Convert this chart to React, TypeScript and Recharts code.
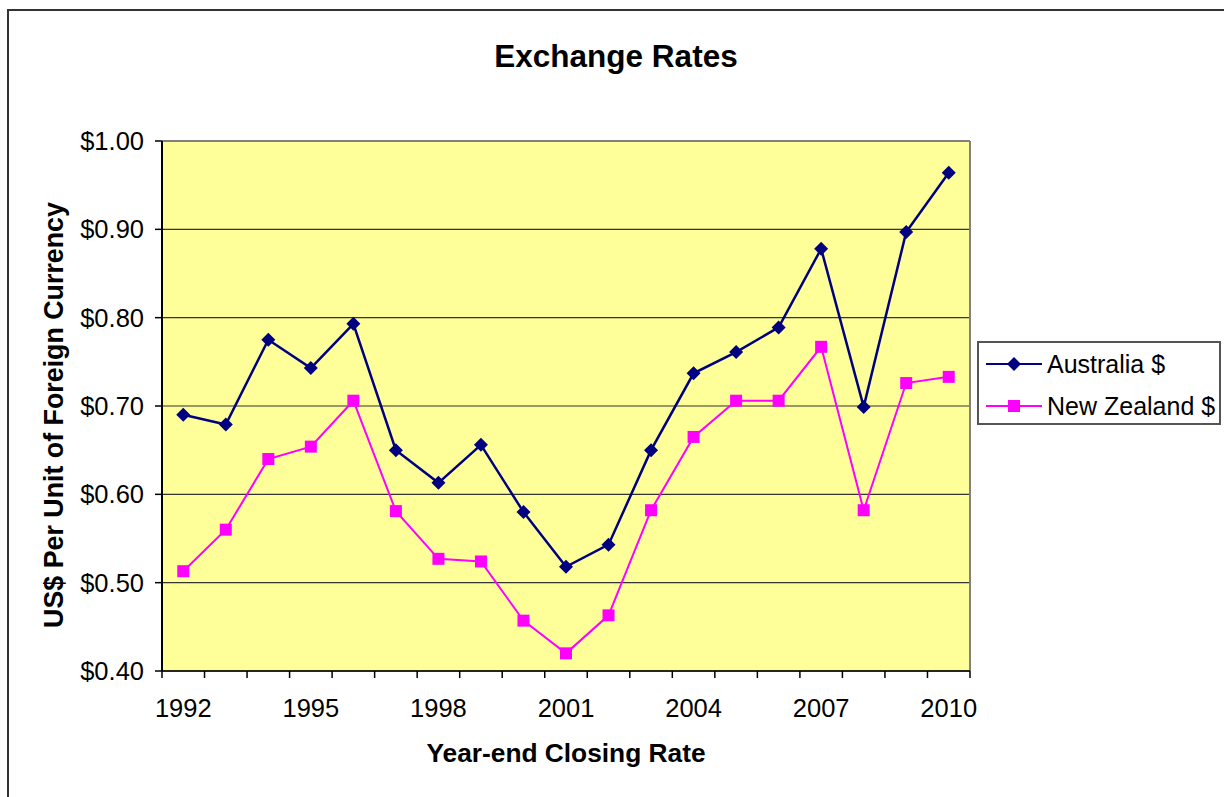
import { CartesianGrid, Legend, Line, LineChart, ReferenceLine, XAxis, YAxis } from "recharts";

const years = [1992, 1993, 1994, 1995, 1996, 1997, 1998, 1999, 2000, 2001, 2002, 2003, 2004, 2005, 2006, 2007, 2008, 2009, 2010];
const australia = [0.690, 0.679, 0.775, 0.743, 0.793, 0.650, 0.613, 0.656, 0.580, 0.518, 0.543, 0.650, 0.737, 0.761, 0.789, 0.878, 0.699, 0.897, 0.964];
const newZealand = [0.513, 0.560, 0.640, 0.654, 0.706, 0.581, 0.527, 0.524, 0.457, 0.420, 0.463, 0.582, 0.665, 0.706, 0.706, 0.767, 0.582, 0.726, 0.733];
const yearLabels = [1992, 1995, 1998, 2001, 2004, 2007, 2010];
const yTicks = [0.4, 0.5, 0.6, 0.7, 0.8, 0.9, 1.0];

const FONT = '"Liberation Sans", Arial, sans-serif';
const NAVY = "#000080";
const MAGENTA = "#FF00FF";

const data = years.map((year, i) => ({ year, aus: australia[i], nz: newZealand[i] }));

// boundary ticks between the years, plus the labelled years
const boundaries = [...years.map((y) => y - 0.5), years[years.length - 1] + 0.5];
const xTicks = [...boundaries, ...yearLabels].sort((a, b) => a - b);

const Diamond = (props: any) => {
    const { cx, cy } = props;
    if (cx == null || cy == null) return null;
    const r = 7;
    return <polygon points={`${cx},${cy - r} ${cx + r},${cy} ${cx},${cy + r} ${cx - r},${cy}`} fill={NAVY} />;
};

const Square = (props: any) => {
    const { cx, cy } = props;
    if (cx == null || cy == null) return null;
    const s = 6;
    return <rect x={cx - s} y={cy - s} width={s * 2} height={s * 2} fill={MAGENTA} />;
};

const XTick = (props: any) => {
    const { x, y, payload } = props;
    const v = payload.value;
    if (Number.isInteger(v)) {
        return <text x={x} y={y + 46} textAnchor="middle" fontSize={25.5} fill="#000" fontFamily={FONT}>{v}</text>;
    }
    return <line x1={x} x2={x} y1={y} y2={y + 7} stroke="#000" strokeWidth={1.5} />;
};

const YLabel = (props: any) => {
    const { viewBox } = props;
    const cx = viewBox.x - 8;
    const cy = viewBox.y + viewBox.height / 2 + 9;
    return (
        <text x={cx} y={cy} transform={`rotate(-90, ${cx}, ${cy})`} textAnchor="middle" dominantBaseline="central"
            fontSize={26.8} fontWeight="bold" fontFamily={FONT} fill="#000">
            US$ Per Unit of Foreign Currency
        </text>
    );
};

const LegendBox = () => {
    const rows = [
        { name: "Australia $", color: NAVY, marker: "diamond" },
        { name: "New Zealand $", color: MAGENTA, marker: "square" },
    ];
    return (
        <div style={{ border: "2px solid #555", background: "#fff", width: 240, height: 80, boxSizing: "content-box", fontFamily: FONT }}>
            {rows.map((r) => (
                <div key={r.name} style={{ display: "flex", alignItems: "center", height: 42 }}>
                    <svg width={68} height={20} style={{ flex: "none" }}>
                        <line x1={7} x2={63} y1={10} y2={10} stroke={r.color} strokeWidth={2} />
                        {r.marker === "diamond"
                            ? <polygon points="35,3 42,10 35,17 28,10" fill={r.color} />
                            : <rect x={29} y={4} width={12} height={12} fill={r.color} />}
                    </svg>
                    <span style={{ fontSize: 25, color: "#000", whiteSpace: "nowrap" }}>{r.name}</span>
                </div>
            ))}
        </div>
    );
};

export default function App() {
    return (
        <div style={{ position: "relative", width: 1224, height: 797, fontFamily: FONT, overflow: "hidden" }}>
            <style>{"html{overflow:hidden} body{margin:0}"}</style>
            <div style={{ position: "absolute", left: 7, top: 9, width: 1217, height: 788, borderLeft: "2px solid #333", borderTop: "2px solid #333", boxSizing: "border-box" }} />
            <div style={{ position: "absolute", left: 316, top: 38, width: 600, textAlign: "center", fontSize: 31.5, fontWeight: "bold", lineHeight: "36px", color: "#000" }}>
                Exchange Rates
            </div>
            <div style={{ position: "absolute", left: 8, top: 8 }}>
                <LineChart
                    width={1216}
                    height={789}
                    data={data}
                    margin={{ top: 133, right: 254, bottom: 16, left: 54 }}
                    style={{ fontFamily: FONT }}
                >
                    <CartesianGrid vertical={false} stroke="#333" strokeWidth={1.2} fill="#FFFF99" fillOpacity={1} />
                    <XAxis
                        dataKey="year"
                        type="number"
                        domain={[1991.5, 2010.5]}
                        ticks={xTicks}
                        interval={0}
                        allowDataOverflow
                        height={110}
                        tickLine={false}
                        tickSize={0}
                        tickMargin={0}
                        tick={<XTick />}
                        axisLine={{ stroke: "#000", strokeWidth: 1.5 }}
                        label={{ value: "Year-end Closing Rate", position: "insideBottom", offset: 19, fontSize: 26.3, fontWeight: "bold", fill: "#000" }}
                    />
                    <YAxis
                        type="number"
                        domain={[0.4, 1.0]}
                        ticks={yTicks}
                        interval={0}
                        width={100}
                        tickSize={7}
                        tickMargin={11}
                        tickFormatter={(v: number) => `$${v.toFixed(2)}`}
                        tick={{ fontSize: 25.5, fill: "#000" }}
                        tickLine={{ stroke: "#000", strokeWidth: 1.5 }}
                        axisLine={{ stroke: "#000", strokeWidth: 2 }}
                        label={<YLabel />}
                    />
                    <ReferenceLine y={1.0} stroke="#808080" strokeWidth={2} ifOverflow="visible" />
                    <ReferenceLine x={2010.5} stroke="#808080" strokeWidth={2} ifOverflow="visible" />
                    <Legend
                        layout="vertical"
                        align="center"
                        verticalAlign="middle"
                        content={<LegendBox />}
                        wrapperStyle={{ left: 969, top: 333, width: 244, right: "auto", bottom: "auto" }}
                    />
                    <Line type="linear" dataKey="aus" name="Australia $" stroke={NAVY} strokeWidth={2.5} dot={<Diamond />} activeDot={false} isAnimationActive={false} />
                    <Line type="linear" dataKey="nz" name="New Zealand $" stroke={MAGENTA} strokeWidth={2} dot={<Square />} activeDot={false} isAnimationActive={false} />
                </LineChart>
            </div>
        </div>
    );
}
